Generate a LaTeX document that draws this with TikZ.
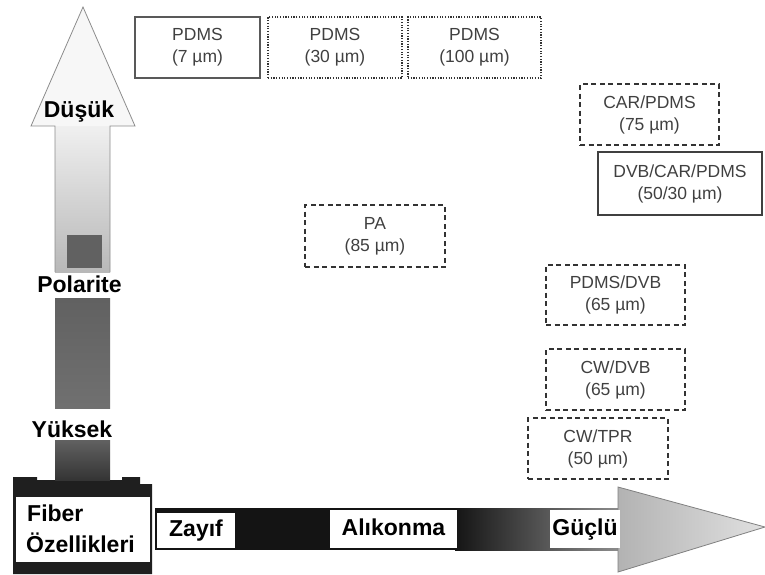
\documentclass[tikz,border=0pt]{standalone}
\usepackage{fontspec}
\setmainfont{Liberation Sans}
\begin{document}
\begin{tikzpicture}[x=1pt,y=-1pt,
  fbox/.style={rectangle,align=center,text=black!75,font=\fontsize{17.5}{22}\selectfont,inner sep=0pt},
  solidbox/.style={fbox,draw=black!75,line width=1.2pt},
  dblbox/.style={fbox,draw=black!65,line width=2.6pt},
  dotbox/.style={fbox,draw=black!80,line width=1.5pt,dash pattern=on 1.2pt off 1.5pt},
  dashbox/.style={fbox,draw=black!80,line width=1.5pt,dash pattern=on 5pt off 3.5pt},
  lbl/.style={font=\fontsize{23}{26}\bfseries\selectfont,text=black,inner sep=0pt},
  wlbl/.style={lbl,fill=white,text height=16pt,text depth=4pt}
]
\useasboundingbox (0,0) rectangle (765,574);
% vertical arrow (polarity)
\fill[white!97!black] (83,7) -- (135,126) -- (31,126) -- cycle;
\shade[top color=black!6,bottom color=black!28] (55,126) rectangle (110,272);
\draw[black!45,line width=0.8pt]
  (55,272) -- (55,126) -- (31,126) -- (83,7) -- (135,126) -- (110,126) -- (110,272);
\fill[black!62] (67,235) rectangle (102,268);
\shade[top color=black!62,bottom color=black!56] (55,298) rectangle (110,408);
\shade[top color=black!62,bottom color=black!80] (55,440) rectangle (110,481);
% base block
\fill[black!88] (13,477) -- (37,477) -- (37,480) -- (55,480) -- (55,481) -- (110,481) -- (110,480) -- (122,480)
  -- (122,477) -- (140,477) -- (140,484) -- (152,484) -- (152,574) -- (13,574) -- cycle;
\fill[white] (16,497) rectangle (150,562);
% horizontal arrow (retention)
\fill[black!92] (155,508) rectangle (455,550);
\shade[left color=black!92,right color=black!45] (455,508) rectangle (618.5,550);
\shade[left color=black!30,right color=black!12,draw=black!50,line width=0.8pt]
  (618,487) -- (765,527) -- (618,572) -- cycle;
% labels
\node[lbl,anchor=base] (dusuk) at (79,117) {Düşük};
\node[lbl,anchor=base] (polarite) at (79.5,292) {Polarite};
\node[lbl,anchor=base] (yuksek) at (72,437) {Yüksek};
\node[lbl,anchor=base west] (fiber) at (27,521) {Fiber};
\node[lbl,anchor=base west] (ozell) at (26,552) {Özellikleri};
\node[wlbl,minimum width=78pt,minimum height=35pt] (zayif) at (196,530.5) {Zayıf};
\node[wlbl,minimum width=127pt,minimum height=38pt] (alikonma) at (393.5,529) {Alıkonma};
\node[wlbl,minimum width=70pt,minimum height=38pt] (guclu) at (585,529) {Güçlü};
% fibre boxes
\node[dblbox,minimum width=125pt,minimum height=61pt] (p7) at (197.5,47.5) {PDMS\\(7 µm)};
\node[dotbox,minimum width=134pt,minimum height=61pt] (p30) at (335,47.5) {PDMS\\(30 µm)};
\node[dotbox,minimum width=133pt,minimum height=61pt] (p100) at (474.5,47.5) {PDMS\\(100 µm)};
\node[dashbox,minimum width=139pt,minimum height=61pt] (car) at (649.5,114.5) {CAR/PDMS\\(75 µm)};
\node[solidbox,minimum width=164pt,minimum height=63pt] (dvb) at (680,183.5) {DVB/CAR/PDMS\\(50/30 µm)};
\node[dashbox,minimum width=140pt,minimum height=62pt] (pa) at (375,236) {PA\\(85 µm)};
\node[dashbox,minimum width=139pt,minimum height=60pt] (pdmsdvb) at (615.5,295) {PDMS/DVB\\(65 µm)};
\node[dashbox,minimum width=139pt,minimum height=61pt] (cwdvb) at (615.5,379.5) {CW/DVB\\(65 µm)};
\node[dashbox,minimum width=140pt,minimum height=61pt] (cwtpr) at (598,448.5) {CW/TPR\\(50 µm)};
\end{tikzpicture}
\end{document}
